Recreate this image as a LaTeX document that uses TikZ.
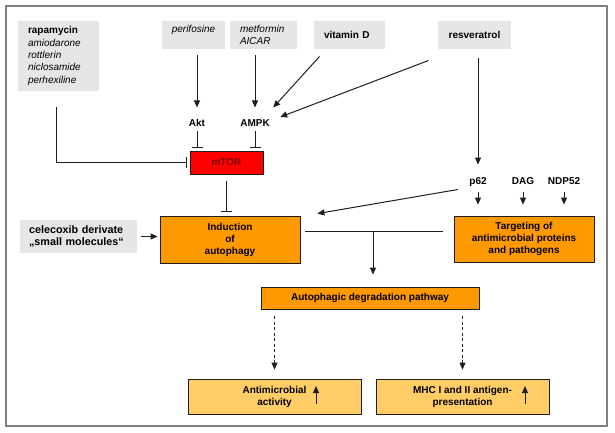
\documentclass[tikz,border=0pt]{standalone}
\usepackage{fontspec}
\setmainfont{Liberation Sans}
\usetikzlibrary{arrows.meta,calc,positioning}
\definecolor{framecolor}{RGB}{128,128,128}
\definecolor{drugcolor}{RGB}{230,230,230}
\definecolor{mtorcolor}{RGB}{255,0,0}
\definecolor{mtortext}{RGB}{120,0,0}
\definecolor{stepcolor}{RGB}{255,153,0}
\definecolor{outcolor}{RGB}{255,204,102}
\definecolor{edgecolor}{RGB}{30,30,30}

\begin{document}
\begin{tikzpicture}[x=1pt, y=-1pt, line width=1pt, edgecolor,
  every node/.style={font=\fontsize{10}{12}\selectfont\bfseries, text=black},
  drug/.style={fill=drugcolor, inner xsep=10pt, inner ysep=0pt},
  lbl/.style={text height=7pt, text depth=2pt, inner sep=2pt},
  stepbox/.style={draw=edgecolor, fill=stepcolor, line width=0.8pt, align=center, inner sep=0pt},
  outbox/.style={stepbox, fill=outcolor},
  arr/.style={-{Triangle[length=7pt,width=6pt]}},
  inh/.style={-{Bar[width=11pt]}}]
  \useasboundingbox (0,0) rectangle (615,433);

  % Frame
  \draw[framecolor, line width=2pt] (6,6) rectangle (607,426);

  % Drugs (grey boxes)
  \node[drug, text width=61pt, minimum height=70pt, align=left, font=\fontsize{10}{12.3}\selectfont\itshape] (rapa) at (58.5,56)
    {{\upshape\bfseries rapamycin}\\amiodarone\\rottlerin\\niclosamide\\perhexiline};
  \node[drug, inner xsep=8pt, text width=47pt, minimum height=28pt, align=center, font=\fontsize{10}{12}\selectfont\itshape] (peri) at (193.5,35)
    {perifosine\\\mbox{}};
  \node[drug, text width=47pt, minimum height=28pt, align=left, font=\fontsize{10}{12}\selectfont\itshape] (metf) at (263.5,35)
    {metformin\\AICAR};
  \node[drug, text width=51pt, minimum height=28pt, align=left] (vitd) at (349.5,35) {vitamin D};
  \node[drug, inner xsep=8pt, text width=57pt, minimum height=28pt, align=center] (resv) at (474.5,35) {resveratrol};
  \node[drug, inner xsep=9pt, text width=99pt, minimum height=33pt, align=left, font=\fontsize{10.8}{12}\selectfont\bfseries] (cele) at (78.5,236.5)
    {celecoxib derivate\\„small molecules“};

  % Kinases and receptors
  \node[lbl] (akt) at (197,124) {Akt};
  \node[lbl] (ampk) at (255,124) {AMPK};
  \node[lbl] (p62) at (478,181.5) {p62};
  \node[lbl] (dag) at (523,181.5) {DAG};
  \node[lbl] (ndp) at (564,181.5) {NDP52};

  % mTOR
  \node[stepbox, fill=mtorcolor, minimum width=73pt, minimum height=23pt, text=mtortext] (mtor) at (226.5,162.5) {mTOR};

  % Pathway boxes
  \node[stepbox, minimum width=140pt, minimum height=47pt] (ind) at (230,239.5) {Induction\\of\\autophagy};
  \node[stepbox, minimum width=140pt, minimum height=46pt] (targ) at (524,239) {Targeting of\\antimicrobial proteins\\and pathogens};
  \node[stepbox, minimum width=218pt, minimum height=22pt] (path) at (370,298) {Autophagic degradation pathway};
  \node[outbox, minimum width=173pt, minimum height=35pt] (anti) at (274.5,396.5) {Antimicrobial\\activity};
  \node[outbox, minimum width=173pt, minimum height=35pt] (mhc) at (462.5,396.5) {MHC I and II antigen-\\presentation};

  % Activation of Akt and AMPK
  \draw[arr, shorten <=6pt, shorten >=9.5pt] (peri.south -| akt.north) -- (akt.north);
  \draw[arr, shorten <=6pt, shorten >=9.5pt] (metf.south -| ampk.north) -- (ampk.north);
  \draw[arr] ($(vitd.south west)+(6,7)$) -- ($(ampk.north east)+(1,-9.5)$);
  \draw[arr] ($(resv.south west)+(-9,11)$) -- ($(ampk.north east)+(8,0)$);

  % Inhibition of mTOR
  \draw[inh, shorten >=3pt] (akt.south) -- (akt.south |- mtor.north);
  \draw[inh, shorten >=3pt] (ampk.south) -- (ampk.south |- mtor.north);
  \draw[inh, shorten >=3pt] ($(rapa.south)+(-2.5,16)$) |- (mtor.west);
  \draw[inh, shorten <=7pt, shorten >=4pt] (mtor.south) -- (mtor.south |- ind.north);

  % Induction of autophagy
  \draw[arr, shorten <=3pt, shorten >=2pt] (cele.east) -- (cele.east -| ind.west);
  \draw[arr, shorten <=9pt, shorten >=10pt] (resv.south -| p62.north) -- (p62.north);
  \draw[arr] ($(p62.south west)+(-9,1)$) -- ($(ind.north east)+(17,-2)$);

  % Targeting
  \foreach \n in {p62,dag,ndp}
    \draw[arr, shorten <=3pt, shorten >=11pt] (\n.south) -- (\n.south |- targ.north);

  % Junction to degradation pathway
  \coordinate (jl) at (305,231);
  \coordinate (jr) at (443,231);
  \coordinate (jm) at (373,231);
  \draw (jl) -- (jr);
  \draw[arr, shorten >=12pt] (jm) -- (jm |- path.north);

  % Outcomes
  \draw[arr, dash pattern=on 3pt off 2.5pt, line width=0.8pt, shorten <=7pt, shorten >=9pt] (anti.north |- path.south) -- (anti.north);
  \draw[arr, dash pattern=on 3pt off 2.5pt, line width=0.8pt, shorten <=7pt, shorten >=9pt] (mhc.north |- path.south) -- (mhc.north);
  \draw[arr] ($(anti.center)+(41.5,7.5)$) -- ++(0,-18);
  \draw[arr] ($(mhc.center)+(62.5,7.5)$) -- ++(0,-18);
\end{tikzpicture}
\end{document}
